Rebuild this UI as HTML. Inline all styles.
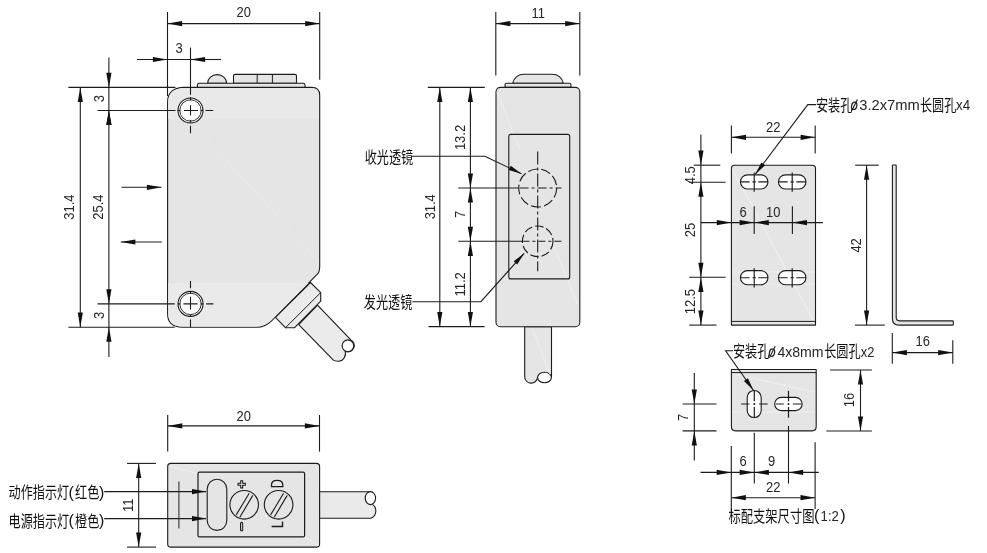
<!DOCTYPE html>
<html lang="zh"><head><meta charset="utf-8"><title>Sensor dimension drawing</title>
<style>
html,body{margin:0;padding:0;background:#fff;}
body{width:987px;height:553px;overflow:hidden;font-family:"Liberation Sans",sans-serif;}
svg{display:block;will-change:transform}
.bd{fill:#e5e5e5;stroke-linejoin:round}
.wh{fill:#fff}
.ar{fill:#111;stroke:none}
text{font-family:"Liberation Sans",sans-serif;fill:#262626;stroke:none}
text.cj{font-family:"Liberation Sans","Noto Sans CJK SC",sans-serif;fill:#111;stroke:none;font-size:16.4px}
text.pr{font-family:"Liberation Sans","Noto Sans CJK SC",sans-serif;fill:#111;stroke:none;font-size:16px}
</style></head><body>
<svg width="987" height="553" viewBox="0 0 987 553" fill="none" stroke="#1c1c1c" stroke-width="1.1">
<rect x="0" y="0" width="987" height="553" fill="#fff" stroke="none"/>
<g id="side-view">
<path class="bd" style="fill:#ebebeb" d="M317.5 305.2L350.8 339.9A5.8 5.8 0 0 1 345.2 351.2C346.5 355.5 343.5 361.5 338 361.2C335.5 361.2 334.3 361 333.4 360.2L298.7 324.7Z"/>
<circle class="wh" cx="347.9" cy="345.7" r="5.8"/>
<path class="bd" style="fill:#ebebeb" d="M310.5 282.5L320.7 292.6L320.7 301.2L294.4 327.8L285.7 327.8L275.4 317.4Z"/>
<path d="M320.7 292.6L285.6 327.6" stroke-width="1" />
<path class="bd" d="M184.5 87.4L311.6 87.4Q319.7 87.4 319.7 95.4L319.7 265.5Q319.8 271.7 317.6 273.9L271.8 320.5Q265 327.2 257 327.2L182.4 327.2C172 327.2 167.6 322.5 167.6 313.5L167.6 102.4C167.5 92.5 173.5 87.4 184.5 87.4Z"/>
<path d="M168.2 102.4C168.2 93 174 88 184.5 88L311.6 88Q318.9 88 318.9 95.4L318.9 119L168.2 119Z" fill="#e9e9e9" stroke="none"/>
<path d="M168.2 283L308.5 283L271.5 320.2Q265 326.5 257 326.5L182.4 326.5C172.5 326.5 168.3 322 168.3 313.5Z" fill="#eaeaea" stroke="none"/>
<path d="M169 97L319 262" stroke="#ebebeb" stroke-width="1" fill="none"/>
<path class="bd" d="M207.6 83.4A9.55 8.8 0 0 1 226.7 83.4Z"/>
<path class="bd" d="M233.5 83.4L233.5 76Q233.5 74.4 235 74.4L295 74.4Q296.5 74.4 296.5 76L296.5 83.4Z"/>
<path d="M257.2 74.4L257.2 83.4" stroke-width="1" />
<path d="M272.4 74.4L272.4 83.4" stroke-width="1" />
<path class="bd" d="M197.4 87.4L197.4 85Q197.4 83.3 199.2 83.3L303.2 83.3Q305 83.3 305 85L305 87.4Z"/>
<circle class="wh" cx="190.5" cy="110.5" r="12.5"/>
<circle cx="190.5" cy="110.5" r="10.7" stroke-width="0.9"/>
<circle class="wh" cx="190.5" cy="303.9" r="12.5"/>
<circle cx="190.5" cy="303.9" r="10.7" stroke-width="0.9"/>
</g>
<path d="M167.5 12L167.5 96" stroke-width="1.1" />
<path d="M319.7 12L319.7 79.8" stroke-width="1.1" />
<path d="M167.5 23.6L319.8 23.6" stroke-width="1.1" />
<path class="ar" d="M167.5 23.6L182.1 21.0L182.1 26.2Z"/>
<path class="ar" d="M319.8 23.6L305.2 26.2L305.2 21.0Z"/>
<text transform="translate(243.7 12.2) scale(0.88 1)" y="5.26" font-size="14.7" text-anchor="middle">20</text>
<path d="M190.5 47.6L190.5 94.8" stroke-width="1.1" />
<path d="M190.5 97.2V100.4M190.5 105.2V115.6M190.5 120V122.6M190.5 125.7V133.3" stroke-width="1.1"/>
<path d="M177.7 110.5H180.3M184 110.5H198M200.5 110.5H203M205.6 110.5H213.2" stroke-width="1.1"/>
<path d="M136.9 59.5L221 59.5" stroke-width="1.1" />
<path class="ar" d="M167.5 59.5L152.9 62.1L152.9 56.9Z"/>
<path d="M190.5 59.5L221 59.5" stroke-width="1.1" />
<path class="ar" d="M190.5 59.5L205.1 56.9L205.1 62.1Z"/>
<text transform="translate(179.2 48.2) scale(0.88 1)" y="5.26" font-size="14.7" text-anchor="middle">3</text>
<path d="M68.4 87.4L175.5 87.4" stroke-width="1.1" />
<path d="M97.5 110.5L175.5 110.5" stroke-width="1.1" />
<path d="M97.5 303.9L174.8 303.9" stroke-width="1.1" />
<path d="M68.4 327.2L174.8 327.2" stroke-width="1.1" />
<path d="M190.5 281.1V288.2M190.5 291.2V293.7M190.5 296.8V309.4M190.5 314.5V316.5M190.5 319.6V327.2" stroke-width="1.1"/>
<path d="M177.9 303.9H180.4M183.4 303.9H197.6M200.7 303.9H203.2M206.2 303.9H213.3" stroke-width="1.1"/>
<path d="M80.3 87.4L80.3 327.2" stroke-width="1.1" />
<path class="ar" d="M80.3 87.4L82.9 102.0L77.7 102.0Z"/>
<path class="ar" d="M80.3 327.2L77.7 312.6L82.9 312.6Z"/>
<text transform="translate(68.9 207.1) rotate(-90) scale(0.88 1)" y="5.26" font-size="14.7" text-anchor="middle">31.4</text>
<path d="M108.9 57.5L108.9 87.4" stroke-width="1.1" />
<path class="ar" d="M108.9 87.4L106.3 72.8L111.5 72.8Z"/>
<path d="M108.9 87.4L108.9 327.2" stroke-width="1.1" />
<path class="ar" d="M108.9 110.5L111.5 125.1L106.3 125.1Z"/>
<path class="ar" d="M108.9 303.9L106.3 289.3L111.5 289.3Z"/>
<path class="ar" d="M108.9 110.5L111.5 125.1L106.3 125.1Z"/>
<path d="M108.9 327.2L108.9 357" stroke-width="1.1" />
<path class="ar" d="M108.9 327.2L111.5 341.8L106.3 341.8Z"/>
<text transform="translate(98.6 98.6) rotate(-90) scale(0.88 1)" y="5.26" font-size="14.7" text-anchor="middle">3</text>
<text transform="translate(98.2 207.1) rotate(-90) scale(0.88 1)" y="5.26" font-size="14.7" text-anchor="middle">25.4</text>
<text transform="translate(98.6 315.4) rotate(-90) scale(0.88 1)" y="5.26" font-size="14.7" text-anchor="middle">3</text>
<path d="M121.5 187.3L161.5 187.3" stroke-width="1.1" />
<path class="ar" d="M161.5 187.3L146.9 189.9L146.9 184.7Z"/>
<path d="M120.8 242L161.8 242" stroke-width="1.1" />
<path class="ar" d="M120.8 242.0L135.4 239.4L135.4 244.6Z"/>
<g id="front-view">
<path class="bd" d="M524.7 326.6V376.3A6.45 6.5 0 0 0 537.6 377L551.5 377.4V326.6Z"/>
<ellipse class="wh" cx="544.5" cy="377.5" rx="6.9" ry="5.3"/>
<path class="bd" d="M512.6 83.4Q515 74.3 524 74.3L552 74.3Q561 74.3 563.4 83.4Z"/>
<path class="bd" d="M505 87.4L505 85Q505 83.3 506.8 83.3L569.2 83.3Q571 83.3 571 85L571 87.4Z"/>
<rect class="bd" x="496" y="87.4" width="83.8" height="239.4" rx="4.5"/>
<path d="M497 92L520 150M551 240L578 305M533 330L550 374" stroke="#ededed" stroke-width="1.2" fill="none"/>
<rect x="508.8" y="134.4" width="60.9" height="144.5" rx="2" stroke-width="1.1"/>
</g>
<circle cx="537.7" cy="188" r="19" stroke-width="1.1" stroke-dasharray="10 3.2"/>
<circle cx="537.7" cy="241.3" r="15.3" stroke-width="1.1" stroke-dasharray="8.5 3"/>
<path d="M537.7 151.6V271.3" stroke-width="1.1" stroke-dasharray="13 3 3 3"/>
<path d="M458.3 188L518.6 188" stroke-width="1.1" />
<path d="M518.6 188H561.5" stroke-width="1.1" stroke-dasharray="9 3 3 3" stroke-dashoffset="-1"/>
<path d="M458.3 241.3L522.4 241.3" stroke-width="1.1" />
<path d="M522.4 241.3H561.5" stroke-width="1.1" stroke-dasharray="7 3 3 3"/>
<path d="M495.8 12L495.8 75.4" stroke-width="1.1" />
<path d="M579.8 12L579.8 75.4" stroke-width="1.1" />
<path d="M495.8 23.6L579.8 23.6" stroke-width="1.1" />
<path class="ar" d="M495.8 23.6L510.4 21.0L510.4 26.2Z"/>
<path class="ar" d="M579.8 23.6L565.2 26.2L565.2 21.0Z"/>
<text transform="translate(538.2 12.4) scale(0.88 1)" y="5.26" font-size="14.7" text-anchor="middle">11</text>
<path d="M427.8 87.4L484.8 87.4" stroke-width="1.1" />
<path d="M428.5 326.6L484.6 326.6" stroke-width="1.1" />
<path d="M439.8 87.4L439.8 326.6" stroke-width="1.1" />
<path class="ar" d="M439.8 87.4L442.4 102.0L437.2 102.0Z"/>
<path class="ar" d="M439.8 326.6L437.2 312.0L442.4 312.0Z"/>
<path d="M470.4 87.4L470.4 188" stroke-width="1.1" />
<path class="ar" d="M470.4 87.4L473.0 102.0L467.8 102.0Z"/>
<path class="ar" d="M470.4 188.0L467.8 173.4L473.0 173.4Z"/>
<path d="M470.4 188L470.4 241.3" stroke-width="1.1" />
<path class="ar" d="M470.4 188.0L473.0 202.6L467.8 202.6Z"/>
<path class="ar" d="M470.4 241.3L467.8 226.7L473.0 226.7Z"/>
<path d="M470.4 241.3L470.4 326.6" stroke-width="1.1" />
<path class="ar" d="M470.4 241.3L473.0 255.9L467.8 255.9Z"/>
<path class="ar" d="M470.4 326.6L467.8 312.0L473.0 312.0Z"/>
<text transform="translate(429.5 206.8) rotate(-90) scale(0.88 1)" y="5.26" font-size="14.7" text-anchor="middle">31.4</text>
<text transform="translate(459.3 137.5) rotate(-90) scale(0.88 1)" y="5.26" font-size="14.7" text-anchor="middle">13.2</text>
<text transform="translate(459.3 214.4) rotate(-90) scale(0.88 1)" y="5.26" font-size="14.7" text-anchor="middle">7</text>
<text transform="translate(459.3 284.4) rotate(-90) scale(0.88 1)" y="5.26" font-size="14.7" text-anchor="middle">11.2</text>
<text class="cj" transform="translate(364.74 162.7) scale(0.74 1)">收光透镜</text>
<path d="M411.8 156.3H484.9L521.4 173.7" stroke-width="1.1"/>
<path class="ar" d="M521.4 173.7L508.7 170.1L510.8 165.8Z"/>
<text class="cj" transform="translate(363.84 308.1) scale(0.74 1)">发光透镜</text>
<path d="M412.4 301.7H480.9L524.2 253.3" stroke-width="1.1"/>
<path class="ar" d="M524.2 253.3L517.2 264.5L513.7 261.3Z"/>
<g id="bottom-view">
<path class="bd" style="fill:#eaeaea" d="M319.5 491.7L370.3 491.7L372.6 504.4C377 507.5 377.2 515.5 371 518.3L319.5 518.3Z"/>
<ellipse class="wh" cx="370.4" cy="498.1" rx="5.2" ry="6.5"/>
<rect class="bd" x="167.7" y="463.4" width="151.9" height="83.7" rx="3.2"/>
<path d="M169 466L197 473.5M305 537L318.5 545.5" stroke="#eeeeee" stroke-width="1.1"/>
<rect x="198" y="472.2" width="106.6" height="64.7" rx="1.5" stroke-width="1.2"/>
<path d="M178.9 481.5L178.9 528.4" stroke-width="1.2" stroke="#444"/>
<rect x="207.2" y="479.3" width="19.6" height="51.1" rx="9.8" stroke-width="1.1"/>
<circle cx="244.2" cy="504.8" r="14.3" stroke-width="1.1"/>
<path d="M236.2 514.9L249.2 493.2M239.8 517.3L252.8 495.4" stroke-width="1.1"/>
<circle cx="278.6" cy="504.8" r="14.3" stroke-width="1.1"/>
<path d="M270.6 514.9L283.6 493.2M274.2 517.3L287.2 495.4" stroke-width="1.1"/>
<path d="M241.7 480.3V488.5M237.5 484.3H245.9" stroke-width="3"/>
<path d="M241.7 481.4V487.4M238.6 484.3H244.8" stroke="#dcdcdc" stroke-width="1"/>
<path d="M241.6 523.4V529.8" stroke-width="3.2" stroke-linecap="round"/>
<path d="M241.6 523.6V529.6" stroke="#c8c8c8" stroke-width="1.2" stroke-linecap="round"/>
<path d="M271.5 486.6V485Q271.5 480.3 277.1 480.3Q282.8 480.3 282.8 485V486.6Z" stroke-width="1.3"/>
<path d="M271.6 526.5H282.5V521.4" stroke-width="1.4"/>
</g>
<path d="M167.7 415L167.7 451.6" stroke-width="1.1" />
<path d="M319.5 415L319.5 451.6" stroke-width="1.1" />
<path d="M167.7 425.9L319.5 425.9" stroke-width="1.1" />
<path class="ar" d="M167.7 425.9L182.3 423.3L182.3 428.5Z"/>
<path class="ar" d="M319.5 425.9L304.9 428.5L304.9 423.3Z"/>
<text transform="translate(243.7 415.6) scale(0.88 1)" y="5.26" font-size="14.7" text-anchor="middle">20</text>
<path d="M127 463.4L156 463.4" stroke-width="1.1" />
<path d="M127 547.1L156 547.1" stroke-width="1.1" />
<path d="M138.7 463.4L138.7 547.1" stroke-width="1.1" />
<path class="ar" d="M138.7 463.4L141.3 478.0L136.1 478.0Z"/>
<path class="ar" d="M138.7 547.1L136.1 532.5L141.3 532.5Z"/>
<text transform="translate(127.9 505.2) rotate(-90) scale(0.88 1)" y="5.26" font-size="14.7" text-anchor="middle">11</text>
<text class="cj" transform="translate(8.54 498.1) scale(0.74 1)">动作指示灯</text>
<text class="pr" x="68.5" y="497.6">(</text>
<text class="cj" transform="translate(75.04 498.1) scale(0.74 1)">红色</text>
<text class="pr" x="99" y="497.6">)</text>
<text class="cj" transform="translate(8.54 526.5) scale(0.74 1)">电源指示灯</text>
<text class="pr" x="68.5" y="526">(</text>
<text class="cj" transform="translate(75.04 526.5) scale(0.74 1)">橙色</text>
<text class="pr" x="99" y="526">)</text>
<path d="M104.2 491.6L206 491.6" stroke-width="1.1" />
<path class="ar" d="M206.2 491.6L192.0 494.2L192.0 489.0Z"/>
<path d="M104.2 518.6L206 518.6" stroke-width="1.1" />
<path class="ar" d="M206.2 518.6L192.0 521.2L192.0 516.0Z"/>
<g id="bracket-front">
<path class="bd" d="M734.5 165.3L812.4 165.3Q815.5 165.3 815.5 168.4L815.5 325.1L731.4 325.1L731.4 168.4Q731.4 165.3 734.5 165.3Z"/>
<path d="M733 170L814 322M732 272H815M732 284H815" stroke="#efefef" stroke-width="1.1" fill="none"/>
<path d="M731.4 321.4L815.5 321.4" stroke-width="1" />
<rect class="wh" x="740.45" y="174.85" width="27.5" height="14.1" rx="7.05"/>
<path d="M754.2 172.5V191.7M740.6 181.9H749.6M752.5 181.9H755.8M758.3 181.9H767.9" stroke-width="1.15"/>
<rect class="wh" x="778.45" y="174.85" width="27.5" height="14.1" rx="7.05"/>
<path d="M792.2 172.5V191.7M778.6 181.9H787.6M790.5 181.9H793.8M796.3 181.9H805.9" stroke-width="1.15"/>
<rect class="wh" x="740.45" y="270.65" width="27.5" height="14.1" rx="7.05"/>
<path d="M754.2 268.3V287.5M740.6 277.7H749.6M752.5 277.7H755.8M758.3 277.7H767.9" stroke-width="1.15"/>
<rect class="wh" x="778.45" y="270.65" width="27.5" height="14.1" rx="7.05"/>
<path d="M792.2 268.3V287.5M778.6 277.7H787.6M790.5 277.7H793.8M796.3 277.7H805.9" stroke-width="1.15"/>
</g>
<path d="M731.4 125.6L731.4 153.4" stroke-width="1.1" />
<path d="M815.2 125.6L815.2 153.4" stroke-width="1.1" />
<path d="M731.4 137.3L815.2 137.3" stroke-width="1.1" />
<path class="ar" d="M731.4 137.3L746.0 134.7L746.0 139.9Z"/>
<path class="ar" d="M815.2 137.3L800.6 139.9L800.6 134.7Z"/>
<text transform="translate(773.2 126.6) scale(0.88 1)" y="5.26" font-size="14.7" text-anchor="middle">22</text>
<path d="M816 104.6H807.8L755.4 174.2" stroke-width="1.1"/>
<path class="ar" d="M755.4 174.2L761.3 162.4L765.1 165.3Z"/>
<text class="cj" transform="translate(815.94 110.5) scale(0.74 1)">安装孔</text>
<ellipse cx="854.2" cy="105.8" rx="2.6" ry="3.7" stroke-width="1.2" transform="rotate(12 854.2 105.8)"/>
<path d="M851.6 111L857.4 99.4" stroke-width="1.1"/>
<text transform="translate(859.34 104.6) scale(1.000 1)" y="5.26" font-size="14.7">3.2x7mm</text>
<text class="cj" transform="translate(919.94 110.5) scale(0.74 1)">长圆孔</text>
<text transform="translate(956.05 104.6) scale(0.911 1)" y="5.26" font-size="14.7">x4</text>
<path d="M693.7 165.2L720.3 165.2" stroke-width="1.1" />
<path d="M689 182.2L725.6 182.2" stroke-width="1.1" />
<path d="M689.2 277.3L725.7 277.3" stroke-width="1.1" />
<path d="M689.2 325.1L716.5 325.1" stroke-width="1.1" />
<path d="M700.9 134.6L700.9 182.2" stroke-width="1.1" />
<path class="ar" d="M700.9 165.2L698.3 150.6L703.5 150.6Z"/>
<path d="M700.9 182.2L700.9 277.3" stroke-width="1.1" />
<path class="ar" d="M700.9 182.2L703.5 196.8L698.3 196.8Z"/>
<path class="ar" d="M700.9 277.3L698.3 262.7L703.5 262.7Z"/>
<path d="M700.9 277.3L700.9 325.1" stroke-width="1.1" />
<path class="ar" d="M700.9 277.3L703.5 291.9L698.3 291.9Z"/>
<path class="ar" d="M700.9 325.1L698.3 310.5L703.5 310.5Z"/>
<text transform="translate(689.7 175.2) rotate(-90) scale(0.88 1)" y="5.26" font-size="14.7" text-anchor="middle">4.5</text>
<text transform="translate(689.7 230.1) rotate(-90) scale(0.88 1)" y="5.26" font-size="14.7" text-anchor="middle">25</text>
<text transform="translate(689.7 301.6) rotate(-90) scale(0.88 1)" y="5.26" font-size="14.7" text-anchor="middle">12.5</text>
<path d="M700.9 222.6L822.9 222.6" stroke-width="1.1" />
<path class="ar" d="M731.4 222.6L716.8 225.2L716.8 220.0Z"/>
<path class="ar" d="M754.2 222.6L739.6 225.2L739.6 220.0Z"/>
<path class="ar" d="M754.2 222.6L768.8 220.0L768.8 225.2Z"/>
<path class="ar" d="M792.4 222.6L807.0 220.0L807.0 225.2Z"/>
<path d="M754.2 206.3L754.2 234" stroke-width="1.1" />
<path d="M792.4 206.3L792.4 234" stroke-width="1.1" />
<text transform="translate(743.1 211.5) scale(0.88 1)" y="5.26" font-size="14.7" text-anchor="middle">6</text>
<text transform="translate(773.3 211.5) scale(0.88 1)" y="5.26" font-size="14.7" text-anchor="middle">10</text>
<path d="M855.2 165.2L878.7 165.2" stroke-width="1.1" />
<path d="M855 325.1L884.8 325.1" stroke-width="1.1" />
<path d="M866.6 165.2L866.6 325.1" stroke-width="1.1" />
<path class="ar" d="M866.6 165.2L869.2 179.8L864.0 179.8Z"/>
<path class="ar" d="M866.6 325.1L864.0 310.5L869.2 310.5Z"/>
<text transform="translate(855.6 245.4) rotate(-90) scale(0.88 1)" y="5.26" font-size="14.7" text-anchor="middle">42</text>
<path class="bd" d="M892.4 165.6Q892.4 165 893 165L895.6 165Q896.2 165 896.2 165.6L896.2 317.6Q896.2 320.9 899.5 320.9L952.6 320.9Q953.3 320.9 953.3 321.6L953.3 324.4Q953.3 325.1 952.6 325.1L899 325.1Q892.4 325.1 892.4 318.5Z"/>
<path d="M892.3 333.1L892.3 363.8" stroke-width="1.1" />
<path d="M952.8 340.2L952.8 363.8" stroke-width="1.1" />
<path d="M892.3 352.6L952.8 352.6" stroke-width="1.1" />
<path class="ar" d="M892.3 352.6L906.9 350.0L906.9 355.2Z"/>
<path class="ar" d="M952.8 352.6L938.2 355.2L938.2 350.0Z"/>
<text transform="translate(922.7 341.1) scale(0.88 1)" y="5.26" font-size="14.7" text-anchor="middle">16</text>
<g id="bracket-bottom">
<path class="bd" d="M731.4 369.5L816.2 369.5L816.2 426.6Q816.2 430.9 811.9 430.9L735.7 430.9Q731.4 430.9 731.4 426.6Z"/>
<path d="M733 374L815 392M732 412H815" stroke="#efefef" stroke-width="1.1" fill="none"/>
<path d="M731.4 372.6L816.2 372.6" stroke-width="1" />
<rect class="wh" x="747.2" y="390.45" width="14" height="27.1" rx="7"/>
<rect class="wh" x="774.65" y="397.35" width="27.5" height="13.3" rx="6.65"/>
<path d="M754.3 390.4V401.2M754.3 407.1V417.5M741.1 404H749.5M759 404H767.7" stroke-width="1.2"/>
<path d="M788.5 390.8V401.2M788.5 407.1V417.8M775.7 404H783.8M792.9 404H801.5" stroke-width="1.2"/>
<circle cx="754.3" cy="404.1" r="1" fill="#1c1c1c" stroke="none"/><circle cx="788.5" cy="404.1" r="1" fill="#1c1c1c" stroke="none"/>
</g>
<path d="M733 350.8H725.6L753.4 390.2" stroke-width="1.1"/>
<path class="ar" d="M753.4 390.2L743.9 381.0L747.9 378.2Z"/>
<text class="cj" transform="translate(732.94 357.3) scale(0.74 1)">安装孔</text>
<ellipse cx="772" cy="352.6" rx="2.6" ry="3.7" stroke-width="1.2" transform="rotate(12 772 352.6)"/>
<path d="M769.4 357.8L775.2 346.2" stroke-width="1.1"/>
<text transform="translate(777.38 351.8) scale(0.960 1)" y="5.26" font-size="14.7">4x8mm</text>
<text class="cj" transform="translate(824.14 357.3) scale(0.74 1)">长圆孔</text>
<text transform="translate(860.75 351.8) scale(0.882 1)" y="5.26" font-size="14.7">x2</text>
<path d="M830.1 370L871.9 370" stroke-width="1.1" />
<path d="M826.3 431L871.9 431" stroke-width="1.1" />
<path d="M860.5 370L860.5 431" stroke-width="1.1" />
<path class="ar" d="M860.5 370.0L863.1 384.6L857.9 384.6Z"/>
<path class="ar" d="M860.5 431.0L857.9 416.4L863.1 416.4Z"/>
<text transform="translate(849.1 400.1) rotate(-90) scale(0.88 1)" y="5.26" font-size="14.7" text-anchor="middle">16</text>
<path d="M682.6 404L716.5 404" stroke-width="1.1" />
<path d="M682.6 430.9L716.5 430.9" stroke-width="1.1" />
<path d="M694.3 373L694.3 404" stroke-width="1.1" />
<path class="ar" d="M694.3 404.0L691.7 389.4L696.9 389.4Z"/>
<path d="M694.3 404L694.3 430.9" stroke-width="1.1" />
<path d="M694.3 430.9L694.3 460.5" stroke-width="1.1" />
<path class="ar" d="M694.3 430.9L696.9 445.5L691.7 445.5Z"/>
<text transform="translate(682.8 417.4) rotate(-90) scale(0.88 1)" y="5.26" font-size="14.7" text-anchor="middle">7</text>
<path d="M731.3 446L731.3 512.6" stroke-width="1.1" />
<path d="M754.3 432.8L754.3 483.6" stroke-width="1.1" />
<path d="M788.5 426L788.5 483.6" stroke-width="1.1" />
<path d="M815.1 442.2L815.1 509" stroke-width="1.1" />
<path d="M700.5 472.4L818.8 472.4" stroke-width="1.1" />
<path class="ar" d="M731.3 472.4L716.7 475.0L716.7 469.8Z"/>
<path class="ar" d="M754.3 472.4L739.7 475.0L739.7 469.8Z"/>
<path class="ar" d="M754.3 472.4L768.9 469.8L768.9 475.0Z"/>
<path class="ar" d="M788.5 472.4L803.1 469.8L803.1 475.0Z"/>
<text transform="translate(743.1 461) scale(0.88 1)" y="5.26" font-size="14.7" text-anchor="middle">6</text>
<text transform="translate(771.5 461) scale(0.88 1)" y="5.26" font-size="14.7" text-anchor="middle">9</text>
<path d="M731.3 497.7L815.1 497.7" stroke-width="1.1" />
<path class="ar" d="M731.3 497.7L745.9 495.1L745.9 500.3Z"/>
<path class="ar" d="M815.1 497.7L800.5 500.3L800.5 495.1Z"/>
<text transform="translate(773.3 486.8) scale(0.88 1)" y="5.26" font-size="14.7" text-anchor="middle">22</text>
<text class="cj" transform="translate(728.44 521.9) scale(0.75 1)">标配支架尺寸图</text>
<text class="pr" x="814" y="521.3">(</text>
<text transform="translate(820.60 516) scale(0.894 1)" y="5.26" font-size="14.7">1:2</text>
<text class="pr" x="840.2" y="521.3">)</text>
</svg>
</body></html>
